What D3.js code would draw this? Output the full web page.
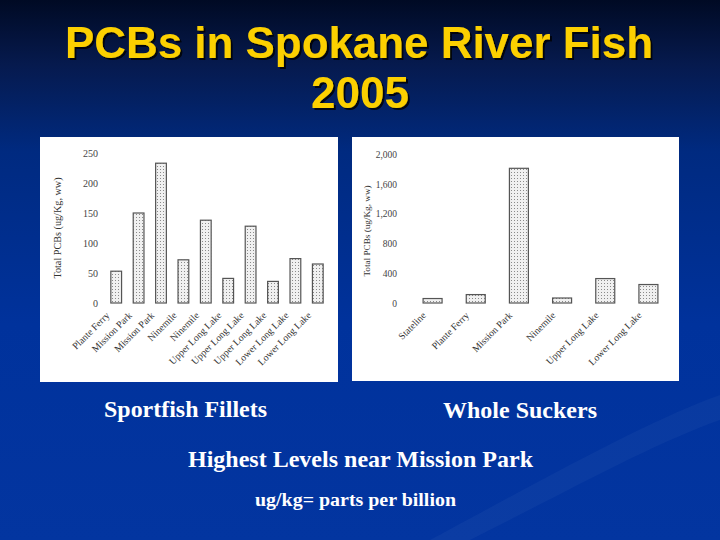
<!DOCTYPE html>
<html><head><meta charset="utf-8">
<script src="https://cdn.jsdelivr.net/npm/d3@7/dist/d3.min.js"></script>
<style>html,body{margin:0;padding:0;background:#002a8a;}svg{display:block;}</style>
</head><body>
<script>
// ---- data ----
const leftCategories = ["Plante Ferry","Mission Park","Mission Park","Ninemile","Ninemile","Upper Long Lake","Upper Long Lake","Upper Long Lake","Lower Long Lake","Lower Long Lake"];
const leftValues = [53, 150, 233, 72, 138, 41, 128, 36, 74, 65];
const leftTicks = [0, 50, 100, 150, 200, 250];
const leftTickLabels = ["0", "50", "100", "150", "200", "250"];

const rightCategories = ["Stateline","Plante Ferry","Mission Park","Ninemile","Upper Long Lake","Lower Long Lake"];
const rightValues = [60, 113, 1808, 67, 328, 248];
const rightTicks = [0, 400, 800, 1200, 1600, 2000];
const rightTickLabels = ["0", "400", "800", "1,200", "1,600", "2,000"];

const yLabel = "Total PCBs (ug/Kg, ww)";
const title1 = "PCBs in Spokane River Fish";
const title2 = "2005";

const W = 720, H = 540;
const svg = d3.select("body").append("svg").attr("width", W).attr("height", H);
const defs = svg.append("defs");

// background gradient
const bg = defs.append("linearGradient").attr("id","bg").attr("x1",0).attr("y1",0).attr("x2",0).attr("y2",1);
bg.append("stop").attr("offset","0%").attr("stop-color","#000a24");
bg.append("stop").attr("offset","12%").attr("stop-color","#061a4e");
bg.append("stop").attr("offset","28%").attr("stop-color","#002a80");
bg.append("stop").attr("offset","60%").attr("stop-color","#00329c");
bg.append("stop").attr("offset","100%").attr("stop-color","#0335a0");
svg.append("rect").attr("width",W).attr("height",H).attr("fill","url(#bg)");

// subtle swoosh
svg.append("path").attr("d","M430,540 C560,470 650,420 720,395 L720,420 C650,445 570,490 470,540 Z")
  .attr("fill","#ffffff").attr("opacity",0.035);

// dot pattern
const pat = defs.append("pattern").attr("id","dots").attr("patternUnits","userSpaceOnUse").attr("width",3).attr("height",3);
pat.append("rect").attr("width",3).attr("height",3).attr("fill","#f0f0f0");
pat.append("rect").attr("x",1).attr("y",1).attr("width",1).attr("height",1).attr("fill","#8a8a8a");

// title shadow filter
const f = defs.append("filter").attr("id","sh").attr("x","-10%").attr("y","-10%").attr("width","120%").attr("height","130%");
f.append("feDropShadow").attr("dx",2).attr("dy",2).attr("stdDeviation",0.6).attr("flood-color","#000000").attr("flood-opacity",0.8);

const sans = "Liberation Sans, Arial, sans-serif";
svg.append("text").attr("x",359).attr("y",58).attr("text-anchor","middle")
  .attr("font-family",sans).attr("font-weight","bold").attr("font-size",44)
  .attr("textLength",588).attr("lengthAdjust","spacingAndGlyphs")
  .attr("fill","#fcd000").attr("filter","url(#sh)").text(title1);
svg.append("text").attr("x",360).attr("y",108).attr("text-anchor","middle")
  .attr("font-family",sans).attr("font-weight","bold").attr("font-size",44)
  .attr("fill","#fcd000").attr("filter","url(#sh)").text(title2);

const serif = "Liberation Serif, Times New Roman, serif";
function panel(cfg){
  const g = svg.append("g");
  g.append("rect").attr("x",cfg.px).attr("y",cfg.py).attr("width",cfg.pw).attr("height",cfg.ph).attr("fill","#ffffff");
  const x = d3.scaleBand().domain(d3.range(cfg.cats.length)).range(cfg.xr).paddingInner(cfg.pad).paddingOuter(cfg.pad/2);
  const y = d3.scaleLinear().domain([0, cfg.ticks[cfg.ticks.length-1]]).range(cfg.yr);
  const ax = d3.axisLeft(y).tickValues(cfg.ticks).tickSize(0).tickPadding(0)
    .tickFormat((d,i)=>cfg.tickLabels[i]);
  const ag = g.append("g").attr("transform",`translate(${cfg.tickX},0)`).call(ax);
  ag.select(".domain").remove();
  ag.selectAll("text").attr("font-family",serif).attr("font-size",cfg.tfs).attr("fill","#444").attr("dy","0.35em");
  g.selectAll("rect.bar").data(cfg.vals).join("rect").attr("class","bar")
    .attr("x",(d,i)=>x(i)).attr("width",x.bandwidth())
    .attr("y",d=>y(d)).attr("height",d=>y(0)-y(d))
    .attr("fill","url(#dots)").attr("stroke","#555").attr("stroke-width",1.2);
  g.selectAll("text.cat").data(cfg.cats).join("text").attr("class","cat")
    .attr("transform",(d,i)=>`translate(${x(i)+x.bandwidth()/2+cfg.lblDx},${cfg.lblY}) rotate(-45)`)
    .attr("text-anchor","end").attr("font-family",serif)
    .attr("font-size",9.8).attr("fill","#333").text(d=>d);
  g.append("text").attr("transform",`translate(${cfg.ylx},${cfg.yly}) rotate(-90)`)
    .attr("text-anchor","middle").attr("font-family",serif)
    .attr("font-size",cfg.ylfs).attr("fill","#333").text(yLabel);
}

panel({px:40, py:137, pw:298, ph:245, cats:leftCategories, vals:leftValues, ticks:leftTicks, tickLabels:leftTickLabels,
  xr:[105,329], pad:0.52, yr:[303,153], tickX:98, tfs:10, lblDx:-6, lblY:316, ylx:61, yly:228, ylfs:10.2});
panel({px:352, py:137, pw:327, ph:244, cats:rightCategories, vals:rightValues, ticks:rightTicks, tickLabels:rightTickLabels,
  xr:[411,670], pad:0.56, yr:[303,154], tickX:397, tfs:9.5, lblDx:-6, lblY:316, ylx:370, yly:231, ylfs:9.2});

function foot(txt, x, y, fs, len){
  svg.append("text").attr("x",x).attr("y",y).attr("text-anchor","middle").attr("font-family",serif)
    .attr("font-weight","bold").attr("font-size",fs).attr("fill","#fff")
    .attr("textLength",len).attr("lengthAdjust","spacingAndGlyphs").text(txt);
}
foot("Sportfish Fillets", 185.5, 417, 23, 163);
foot("Whole Suckers", 520, 418, 23, 154);
foot("Highest Levels near Mission Park", 360.5, 467, 23.5, 345);
foot("ug/kg= parts per billion", 355.5, 506, 18, 201);
</script>
</body></html>
